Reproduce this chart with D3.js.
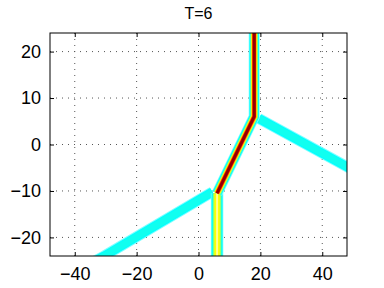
<!DOCTYPE html>
<html><head><meta charset="utf-8">
<script src="https://cdn.jsdelivr.net/npm/d3@7"></script>
<style>body{margin:0;background:#fff;}svg{display:block;font-family:"Liberation Sans",Arial,Helvetica,sans-serif;}</style>
</head><body>
<script>
const title = "T=6";
const xTicks = [-40, -20, 0, 20, 40];
const yTicks = [-20, -10, 0, 10, 20];
const xDomain = [-48, 48];
const yDomain = [-24, 24];
// band center lines (data units)
const upperBand = [[18, 30], [18, 6], [6, -10.5]];
const lowerBand = [[6, -10.5], [6, -30]];
const rightBranch = [[19.5, 5.6], [48, -4.8], [55, -7.4]];
const leftBranch = [[4.5, -10.2], [-30.5, -24], [-36, -26]];

const W = 384, H = 288;
const m = {l: 50, r: 37, t: 33, b: 32};
const svg = d3.select("body").append("svg").attr("width", W).attr("height", H);
const x = d3.scaleLinear().domain(xDomain).range([m.l, W - m.r]);
const y = d3.scaleLinear().domain(yDomain).range([H - m.b, m.t]);

svg.append("defs").append("clipPath").attr("id", "clip")
  .append("rect").attr("x", m.l).attr("y", m.t).attr("width", W - m.l - m.r).attr("height", H - m.t - m.b);

// grid
const g = svg.append("g");
g.selectAll(".gx").data(xTicks).join("line")
  .attr("x1", d => x(d)).attr("x2", d => x(d)).attr("y1", m.t).attr("y2", H - m.b)
  .attr("stroke", "#555").attr("stroke-width", 1).attr("stroke-dasharray", "1,5");
g.selectAll(".gy").data(yTicks).join("line")
  .attr("y1", d => y(d)).attr("y2", d => y(d)).attr("x1", m.l).attr("x2", W - m.r)
  .attr("stroke", "#555").attr("stroke-width", 1).attr("stroke-dasharray", "1,5");

const line = d3.line().x(d => x(d[0])).y(d => y(d[1]));
const plot = svg.append("g").attr("clip-path", "url(#clip)");
function band(pts, layers) {
  layers.forEach(([w, c]) => {
    plot.append("path").attr("d", line(pts)).attr("fill", "none")
      .attr("stroke", c).attr("stroke-width", w).attr("stroke-linejoin", "miter");
  });
}
const cyanLayers = [[11, "#7fffff"], [9, "#00ffff"], [7, "#10fff0"]];
band(rightBranch, cyanLayers);
band(leftBranch, cyanLayers);
band(lowerBand, [[12.5, "#7fffff"], [11, "#00ffff"], [8.5, "#60ffa0"], [7, "#c0ff40"], [5, "#ffff00"], [2, "#ffff90"]]);
band(upperBand, [[11, "#7fffff"], [9.5, "#00ffff"], [7.5, "#80ff80"], [6, "#ffff00"], [4.6, "#ff8000"], [3.6, "#e00000"], [2.4, "#900000"]]);

// axes box
svg.append("rect").attr("x", m.l).attr("y", m.t).attr("width", W - m.l - m.r).attr("height", H - m.t - m.b)
  .attr("fill", "none").attr("stroke", "#000").attr("stroke-width", 1);

const tl = 4;
const fmt = d => d3.format("d")(d).replace("-", "\u2212");
const ax = svg.append("g");
ax.append("g").attr("transform", `translate(0,${H - m.b})`)
  .call(d3.axisBottom(x).tickValues(xTicks).tickSize(-tl).tickPadding(tl + 7).tickFormat(fmt))
  .call(s => s.select(".domain").remove());
ax.append("g").attr("transform", `translate(0,${m.t})`)
  .call(d3.axisTop(x).tickValues(xTicks).tickSize(-tl).tickFormat(""))
  .call(s => s.select(".domain").remove());
ax.append("g").attr("transform", `translate(${m.l},0)`)
  .call(d3.axisLeft(y).tickValues(yTicks).tickSize(-tl).tickPadding(tl + 5).tickFormat(fmt))
  .call(s => s.select(".domain").remove());
ax.append("g").attr("transform", `translate(${W - m.r},0)`)
  .call(d3.axisRight(y).tickValues(yTicks).tickSize(-tl).tickFormat(""))
  .call(s => s.select(".domain").remove());
ax.selectAll("text").attr("font-size", 18).attr("fill", "#000").attr("font-family", "Liberation Sans, Arial, sans-serif");
ax.selectAll(".tick line").attr("stroke", "#000");

svg.append("text").attr("x", (m.l + W - m.r) / 2).attr("y", 19).attr("text-anchor", "middle")
  .attr("font-size", 16).attr("fill", "#000").text(title);
</script>
</body></html>
